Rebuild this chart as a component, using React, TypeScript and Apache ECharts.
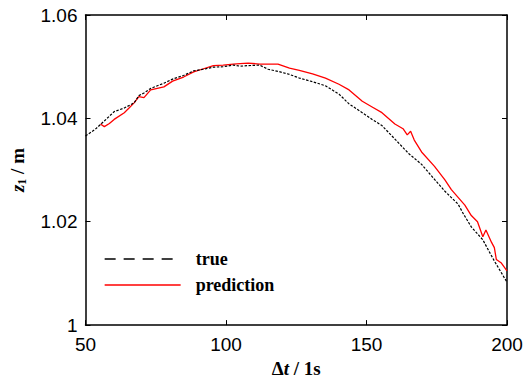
import React, { useEffect, useRef } from "react";
import * as echarts from "echarts";

const xTicks = [50, 100, 150, 200];
const yTicks = [1, 1.02, 1.04, 1.06];

const trueX = [50, 53.5, 56.7, 60.2, 63.8, 67.3, 69, 70.8, 73.2, 77.9, 81, 84.9, 88.5, 92, 95.5, 99, 102.6, 105, 107.9, 112, 115, 118.5, 122.6, 126.1, 130.8, 135.4, 140.2, 143.8, 148.5, 152, 155.5, 160.1, 165, 169.6, 174.2, 177.9, 182.6, 184.5, 187.3, 191.4, 195.5, 200];
const trueY = [1.0366, 1.0379, 1.0395, 1.0413, 1.042, 1.043, 1.0444, 1.0449, 1.0458, 1.0468, 1.0476, 1.0483, 1.0492, 1.0495, 1.0499, 1.05, 1.0503, 1.0501, 1.0502, 1.0503, 1.0495, 1.0491, 1.0485, 1.0478, 1.0471, 1.0463, 1.0447, 1.0428, 1.0411, 1.0398, 1.0386, 1.036, 1.0332, 1.0311, 1.0282, 1.0259, 1.0234, 1.0215, 1.019, 1.0165, 1.0124, 1.0083];

const predX = [55.3, 56.7, 58.5, 60.2, 63.8, 65.5, 67.3, 69, 70.8, 73.2, 77.9, 81, 84.9, 88.5, 92, 95.5, 99, 102.6, 105, 107.9, 112, 115, 118.5, 122.6, 126.1, 130.8, 135.4, 140.2, 143.8, 148.5, 152, 155.5, 160.1, 163, 164.5, 165.7, 167, 169.6, 174.2, 177.9, 180.2, 182.6, 185, 187.3, 189.5, 191.4, 192.5, 194.5, 195.5, 196.2, 198, 200];
const predY = [1.0389, 1.0384, 1.039, 1.0398, 1.0411, 1.042, 1.043, 1.0442, 1.044, 1.0455, 1.0461, 1.0472, 1.048, 1.049, 1.0496, 1.0502, 1.0503, 1.0505, 1.0506, 1.0507, 1.0505, 1.0505, 1.0505, 1.0497, 1.0493, 1.0486, 1.0478, 1.0466, 1.0455, 1.0433, 1.0422, 1.0411, 1.0389, 1.038, 1.0368, 1.0375, 1.0358, 1.0335, 1.0307, 1.0281, 1.0262, 1.0247, 1.0232, 1.0212, 1.02, 1.0171, 1.0184, 1.016, 1.015, 1.0127, 1.012, 1.0105];

const seriesNames = ["true", "prediction"];

export default function App() {
  const ref = useRef<HTMLDivElement>(null);
  useEffect(() => {
    if (!ref.current) return;
    const chart = echarts.init(ref.current, null, { renderer: "svg" });
    const axisLine = { show: true, lineStyle: { color: "#000", width: 1.5 } };
    const labelFont = { color: "#000", fontSize: 19, fontFamily: "Liberation Sans, Arial, sans-serif" };
    const serif = "Liberation Serif, Times New Roman, serif";
    chart.setOption({
      animation: false,
      backgroundColor: "#fff",
      grid: { left: 81, right: 19, top: 15, bottom: 51, containLabel: false },
      legend: {
        orient: "vertical",
        left: 99,
        top: 245,
        itemWidth: 76,
        itemHeight: 14,
        itemGap: 8,
        itemStyle: { opacity: 0 },
        textStyle: { fontFamily: serif, fontWeight: "bold", fontSize: 18, color: "#000", padding: [0, 0, 0, 10] },
        data: [
          { name: "true", itemStyle: { opacity: 0 }, lineStyle: { type: [11, 8], width: 1.3, color: "#000" } },
          { name: "prediction", itemStyle: { opacity: 0 }, lineStyle: { type: "solid", width: 1.3, color: "#ff0000" } },
        ],
      },
      xAxis: [
        {
          type: "value",
          min: 50,
          max: 200,
          interval: 50,
          position: "bottom",
          axisLine,
          axisTick: { show: true, inside: true, length: 5, lineStyle: { color: "#000" } },
          axisLabel: { ...labelFont, margin: 10, formatter: (v: number) => (xTicks.includes(v) ? String(v) : "") },
          splitLine: { show: false },
          name: "{d|Δ}{t|t}{d| / 1s}",
          nameLocation: "middle",
          nameGap: 31,
          nameTextStyle: {
            rich: {
              d: { fontFamily: serif, fontWeight: "bold", fontSize: 19, color: "#000" },
              t: { fontFamily: serif, fontWeight: "bold", fontStyle: "italic", fontSize: 19, color: "#000" },
            },
          },
        },
        {
          type: "value",
          min: 50,
          max: 200,
          interval: 50,
          position: "top",
          axisLine,
          axisTick: { show: true, inside: true, length: 5, lineStyle: { color: "#000" } },
          axisLabel: { show: false },
          splitLine: { show: false },
        },
      ],
      yAxis: [
        {
          type: "value",
          min: 1,
          max: 1.06,
          interval: 0.02,
          position: "left",
          axisLine,
          axisTick: { show: true, inside: true, length: 5, lineStyle: { color: "#000" } },
          axisLabel: {
            ...labelFont,
            margin: 8,
            formatter: (v: number) => {
              const r = Math.round(v * 100) / 100;
              return yTicks.some((t) => Math.abs(t - r) < 1e-9) ? String(parseFloat(r.toFixed(2))) : "";
            },
          },
          splitLine: { show: false },
          name: "{z|z}{s|1}{m| / m}",
          nameLocation: "middle",
          nameGap: 58,
          nameTextStyle: {
            rich: {
              z: { fontFamily: serif, fontWeight: "bold", fontStyle: "italic", fontSize: 19, color: "#000" },
              s: { fontFamily: serif, fontWeight: "bold", fontSize: 12, color: "#000", padding: [8, 0, 0, 0] },
              m: { fontFamily: serif, fontWeight: "bold", fontSize: 19, color: "#000" },
            },
          },
        },
        {
          type: "value",
          min: 1,
          max: 1.06,
          interval: 0.02,
          position: "right",
          axisLine,
          axisTick: { show: true, inside: true, length: 5, lineStyle: { color: "#000" } },
          axisLabel: { show: false },
          splitLine: { show: false },
        },
      ],
      series: [
        {
          name: seriesNames[0],
          type: "line",
          data: trueX.map((x, i) => [x, trueY[i]]),
          showSymbol: false,
          symbol: "none",
          lineStyle: { color: "#000", width: 1.2, type: [2.5, 1.5] },
          itemStyle: { color: "#000" },
          z: 3,
        },
        {
          name: seriesNames[1],
          type: "line",
          data: predX.map((x, i) => [x, predY[i]]),
          showSymbol: false,
          symbol: "none",
          lineStyle: { color: "#ff0000", width: 1.3 },
          itemStyle: { color: "#ff0000" },
          z: 2,
        },
      ],
    });
    return () => chart.dispose();
  }, []);
  return <div ref={ref} style={{ position: "fixed", left: 0, top: 0, width: 526, height: 383 }} />;
}
